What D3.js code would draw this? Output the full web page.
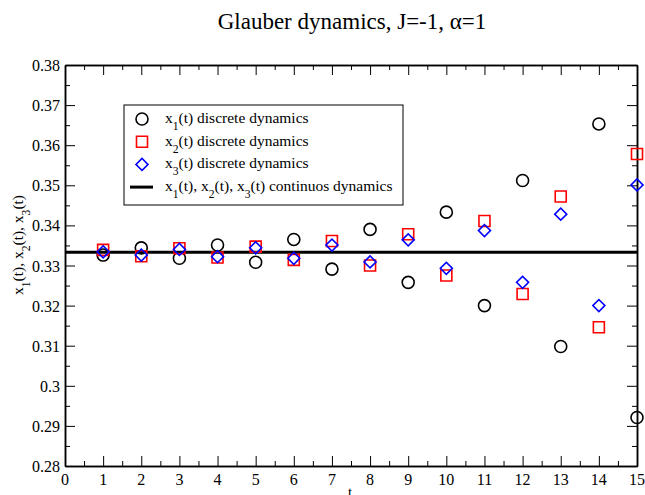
<!DOCTYPE html>
<html>
<head>
<meta charset="utf-8">
<script src="https://cdn.jsdelivr.net/npm/d3@7"></script>
<style>
body { margin:0; background:#fff; }
text { font-family: "Times New Roman", "Liberation Serif", Times, "DejaVu Serif", serif; }
</style>
</head>
<body>
<svg id="chart" width="645" height="495"></svg>
<script>
// ---- data ----
var tValues = [1,2,3,4,5,6,7,8,9,10,11,12,13,14,15];
var x1 = [0.3326,0.3344,0.3318,0.3351,0.3308,0.3365,0.3291,0.3390,0.3258,0.3433,0.3200,0.3512,0.3098,0.3653,0.2921];
var x2 = [0.3339,0.3323,0.3343,0.3320,0.3347,0.3314,0.3361,0.3300,0.3378,0.3275,0.3411,0.3229,0.3472,0.3146,0.3578];
var x3 = [0.3334,0.3326,0.3340,0.3322,0.3344,0.3318,0.3351,0.3309,0.3364,0.3293,0.3387,0.3258,0.3428,0.3200,0.3501];
var continuous = 1/3;
var xTicks = d3.range(0,16);
var yTicks = [0.28,0.29,0.3,0.31,0.32,0.33,0.34,0.35,0.36,0.37,0.38];

var svg = d3.select("#chart");
var pL = 65, pR = 637, pT = 65, pB = 466;

var x = d3.scaleLinear().domain([0,15]).range([pL,pR]);
var y = d3.scaleLinear().domain([0.28,0.38]).range([pB,pT]);

// title
svg.append("text")
  .attr("x",352).attr("y",29)
  .attr("text-anchor","middle").attr("font-size",23)
  .text("Glauber dynamics, J=-1, \u03b1=1");

// ---- axes (ticks inside) ----
var minorX = d3.range(0.5,15,1);
var minorY = d3.range(0.285,0.38,0.01);

function tickAxis(axis, pos, major, minor){
  var g = svg.append("g").attr("transform",pos);
  g.call(axis.tickValues(major).tickSizeInner(-10).tickSizeOuter(0).tickFormat(""));
  var g2 = svg.append("g").attr("transform",pos);
  g2.call(axis.tickValues(minor).tickSizeInner(-5).tickSizeOuter(0).tickFormat(""));
  [g,g2].forEach(function(gg){
    gg.select(".domain").attr("stroke","#000").attr("stroke-width",1.5);
    gg.selectAll(".tick line").attr("stroke","#000").attr("stroke-width",1);
  });
}
tickAxis(d3.axisBottom(x), "translate(0,"+pB+")", xTicks, minorX);
tickAxis(d3.axisTop(x), "translate(0,"+pT+")", xTicks, minorX);
tickAxis(d3.axisLeft(y), "translate("+pL+",0)", yTicks, minorY);
tickAxis(d3.axisRight(y), "translate("+pR+",0)", yTicks, minorY);

// tick labels
svg.append("g").selectAll("text").data(xTicks).join("text")
  .attr("x",d=>x(d)).attr("y",pB+19)
  .attr("text-anchor","middle").attr("font-size",16)
  .text(d=>d);
svg.append("g").selectAll("text").data(yTicks).join("text")
  .attr("x",pL-5).attr("y",d=>y(d)+6)
  .attr("text-anchor","end").attr("font-size",16)
  .text(d3.format("~g"));

// axis labels
svg.append("text").attr("x",350).attr("y",497)
  .attr("text-anchor","middle").attr("font-size",15).text("t");

function subLabel(sel, parts){
  parts.forEach(function(p){
    sel.append("tspan").text(p[0]);
    if(p[1]) sel.append("tspan").attr("baseline-shift","sub").attr("font-size","75%").text(p[1]);
  });
}
var yl = svg.append("text")
  .attr("transform","translate(23,245) rotate(-90)")
  .attr("text-anchor","middle").attr("font-size",15.5);
subLabel(yl, [["x","1"],["(t), x","2"],["(t), x","3"],["(t)",null]]);

// ---- continuous line ----
svg.append("line")
  .attr("x1",x(0)).attr("x2",x(15))
  .attr("y1",y(continuous)).attr("y2",y(continuous))
  .attr("stroke","#000").attr("stroke-width",3);

// ---- markers ----
var sym = {
  circle: d3.symbol().type(d3.symbolCircle).size(Math.PI*36),
  square: d3.symbol().type(d3.symbolSquare).size(121),
  diamond: d3.symbol().type(d3.symbolSquare).size(72)
};
function drawSeries(vals, kind, color){
  svg.append("g").selectAll("path").data(vals).join("path")
    .attr("d",sym[kind])
    .attr("transform",(d,i)=>"translate("+x(tValues[i])+","+y(d)+")"+(kind=="diamond"?" rotate(45)":""))
    .attr("fill","none").attr("stroke",color).attr("stroke-width",1.6);
}
drawSeries(x1,"circle","#000");
drawSeries(x2,"square","#ff0000");
drawSeries(x3,"diamond","#0000ff");

// ---- legend ----
var lg = svg.append("g");
lg.append("rect").attr("x",124).attr("y",105).attr("width",279).attr("height",100)
  .attr("fill","#fff").attr("stroke","#000").attr("stroke-width",1);
var legendRows = [
  {kind:"circle",color:"#000",parts:[["x","1"],["(t) discrete dynamics",null]]},
  {kind:"square",color:"#ff0000",parts:[["x","2"],["(t) discrete dynamics",null]]},
  {kind:"diamond",color:"#0000ff",parts:[["x","3"],["(t) discrete dynamics",null]]},
  {kind:"line",color:"#000",parts:[["x","1"],["(t), x","2"],["(t), x","3"],["(t) continuos dynamics",null]]}
];
legendRows.forEach(function(r,i){
  var cy = 119 + i*22.7;
  if(r.kind=="line"){
    lg.append("line").attr("x1",130).attr("x2",153).attr("y1",cy).attr("y2",cy)
      .attr("stroke","#000").attr("stroke-width",3);
  } else {
    lg.append("path").attr("d",sym[r.kind])
      .attr("transform","translate(142,"+cy+")"+(r.kind=="diamond"?" rotate(45)":""))
      .attr("fill","none").attr("stroke",r.color).attr("stroke-width",1.6);
  }
  var t = lg.append("text").attr("x",165).attr("y",cy+4).attr("font-size",15.5);
  subLabel(t, r.parts);
});
</script>
</body>
</html>
